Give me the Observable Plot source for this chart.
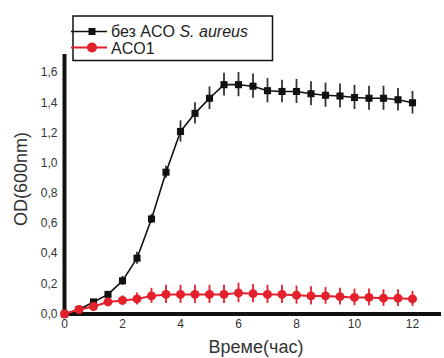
<!DOCTYPE html>
<html><head><meta charset="utf-8">
<script src="https://cdn.jsdelivr.net/npm/d3@7"></script>
<script src="https://cdn.jsdelivr.net/npm/@observablehq/plot@0.6"></script>
<style>body{margin:0;background:#fff;font-family:"Liberation Sans",Arial,sans-serif}</style>
</head><body><div id="chart"></div>
<script>
const seriesNames = ["без ACO S. aureus", "ACO1"];
const blackTime = [0,0.5,1,1.5,2,2.5,3,3.5,4,4.5,5,5.5,6,6.5,7,7.5,8,8.5,9,9.5,10,10.5,11,11.5,12];
const blackOD   = [0,0.03,0.08,0.13,0.22,0.37,0.63,0.94,1.21,1.33,1.43,1.52,1.52,1.51,1.48,1.475,1.475,1.46,1.45,1.445,1.435,1.43,1.43,1.42,1.40];
const blackErr  = [0,0.01,0.01,0.015,0.03,0.04,0.03,0.04,0.07,0.07,0.075,0.075,0.08,0.08,0.08,0.075,0.08,0.08,0.08,0.08,0.08,0.08,0.08,0.075,0.075];
const redTime = blackTime;
const redOD   = [0,0.03,0.05,0.08,0.09,0.10,0.12,0.13,0.13,0.13,0.13,0.13,0.14,0.135,0.13,0.13,0.125,0.12,0.12,0.115,0.11,0.11,0.105,0.105,0.10];
const redErr  = [0,0.01,0.01,0.02,0.03,0.04,0.05,0.06,0.06,0.06,0.06,0.06,0.065,0.06,0.06,0.06,0.06,0.06,0.055,0.055,0.055,0.055,0.055,0.055,0.05];
const xTicks = [0,2,4,6,8,10,12];
const yTicks = [0,0.2,0.4,0.6,0.8,1.0,1.2,1.4,1.6];

const black = blackTime.map((t,i)=>({t, v:blackOD[i], e:blackErr[i]}));
const red = redTime.map((t,i)=>({t, v:redOD[i], e:redErr[i]}));
const RED = "#e3202b";
const fmt = d => d3.format(".1f")(d).replace(".", ",");

const plot = Plot.plot({
  width: 444, height: 358,
  marginLeft: 64, marginRight: 3, marginTop: 54, marginBottom: 44.5,
  style: {fontFamily: "'Liberation Sans', Arial, sans-serif", fontSize: "12px", color: "#333"},
  x: {domain: [0, 13], ticks: xTicks, tickSize: 0, tickPadding: 5, tickFormat: d => d, label: null},
  y: {domain: [0, 1.72], ticks: yTicks, tickSize: 0, tickPadding: 7, tickFormat: fmt, label: null},
  marks: [
    Plot.ruleY([0], {stroke: "#111", strokeWidth: 4}),
    Plot.ruleX([0], {stroke: "#111", strokeWidth: 4}),
    Plot.ruleX(black, {x: "t", y1: d => d.v - d.e, y2: d => d.v + d.e, stroke: "#333", strokeWidth: 1.8}),
    Plot.line(black, {x: "t", y: "v", stroke: "#111", strokeWidth: 1.6}),
    Plot.dot(black, {x: "t", y: "v", symbol: "square", r: 4, fill: "#111", stroke: "none"}),
    Plot.ruleX(red, {x: "t", y1: d => d.v - d.e, y2: d => d.v + d.e, stroke: RED, strokeWidth: 1.8}),
    Plot.line(red, {x: "t", y: "v", stroke: RED, strokeWidth: 2}),
    Plot.dot(red, {x: "t", y: "v", r: 4.5, fill: RED, stroke: "none"}),
    Plot.axisX({ticks: xTicks, tickSize: 0, tickPadding: 5, fontSize: 12, label: null}),
    Plot.axisY({ticks: yTicks, tickSize: 0, tickPadding: 7, tickFormat: fmt, fontSize: 12, label: null})
  ]
});

const svg = d3.select(plot);
// axis titles
svg.append("text").attr("x", 256).attr("y", 353).attr("text-anchor", "middle")
  .attr("font-size", 18).attr("fill", "#333").text("Време(час)");
svg.append("text").attr("transform", "translate(27,179) rotate(-90)").attr("text-anchor", "middle")
  .attr("font-size", 18).attr("fill", "#333").text("OD(600nm)");
// legend
const lg = svg.append("g").attr("text-anchor", "start");
lg.append("rect").attr("x", 73).attr("y", 16).attr("width", 199.5).attr("height", 44.5)
  .attr("fill", "#fff").attr("stroke", "#111").attr("stroke-width", 1.5);
lg.append("line").attr("x1", 71).attr("x2", 107).attr("y1", 31.5).attr("y2", 31.5).attr("stroke", "#111").attr("stroke-width", 1.6);
lg.append("rect").attr("x", 88.5).attr("y", 28).attr("width", 7).attr("height", 7).attr("fill", "#111");
lg.append("line").attr("x1", 71).attr("x2", 107).attr("y1", 47.5).attr("y2", 47.5).attr("stroke", RED).attr("stroke-width", 2);
lg.append("circle").attr("cx", 92).attr("cy", 47.5).attr("r", 5).attr("fill", RED);
const t1 = lg.append("text").attr("x", 111).attr("y", 36.5).attr("font-size", 16).attr("fill", "#222").attr("text-anchor", "start");
t1.append("tspan").text("без ACO ");
t1.append("tspan").attr("font-style", "italic").text("S. aureus");
lg.append("text").attr("x", 111).attr("y", 53.5).attr("font-size", 16).attr("fill", "#222").attr("text-anchor", "start").text("ACO1");

document.getElementById("chart").appendChild(plot);
</script></body></html>
